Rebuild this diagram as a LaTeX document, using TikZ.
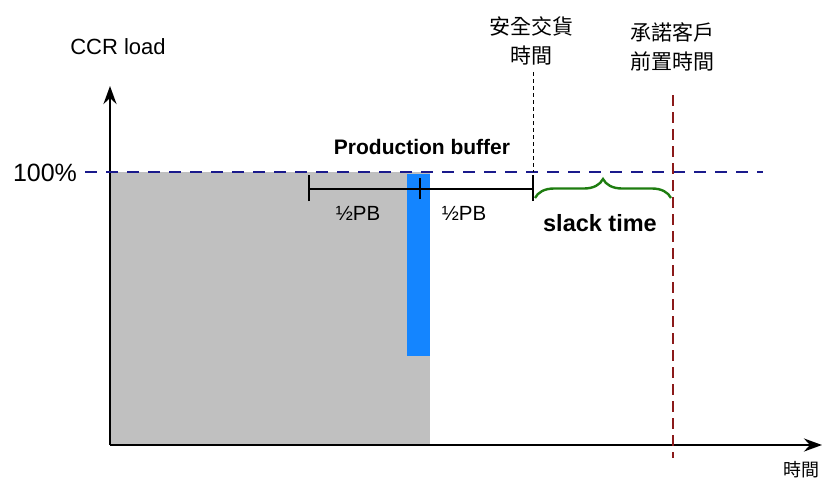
\documentclass[tikz,border=0pt]{standalone}
\usepackage{fontspec}
\setmainfont{Liberation Sans}
\newfontfamily\cjk{Noto Sans CJK TC}
\usepackage{xcolor}
\usetikzlibrary{arrows.meta,decorations.pathreplacing}
\definecolor{loadgray}{HTML}{C0C0C0}
\definecolor{bufblue}{HTML}{1485FF}
\definecolor{capnavy}{HTML}{1A1A8C}
\definecolor{duered}{HTML}{8B1A1A}
\definecolor{slackgreen}{HTML}{1E7D10}
\tikzset{
  axis/.style={line width=2.8pt, -{Stealth[length=18pt,width=13pt,inset=6pt]}},
  capline/.style={draw=capnavy, line width=1.6pt, dash pattern=on 12pt off 9pt},
  dueline/.style={draw=duered, line width=2.2pt, dash pattern=on 11pt off 6pt},
  safeline/.style={draw=black, line width=0.8pt, dash pattern=on 4pt off 3pt},
  span/.style={line width=2pt},
  spantick/.style={line width=2pt},
  slackbrace/.style={draw=slackgreen, line width=2.4pt, decorate, decoration={brace, amplitude=19pt}},
  lbl/.style={inner sep=0pt, align=center}
}
\begin{document}
\begin{tikzpicture}[x=1pt,y=-1pt]
  \useasboundingbox (0,0) rectangle (822,482);

  % load profile and buffer
  \fill[loadgray] (110,172) rectangle (430,445);
  \fill[bufblue] (407,174) rectangle (430,356);

  \coordinate (origin) at (110,445);
  \coordinate (ytip) at (110,86);
  \coordinate (xtip) at (822,445);
  \draw[axis] (origin) -- (ytip);
  \draw[axis] (origin) -- (xtip);

  \coordinate (capL) at (85,172);
  \coordinate (capR) at (763,172);
  \draw[capline] (capL) -- (capR);

  \coordinate (safeTop) at (533,72);
  \coordinate (safeBot) at (533,172);
  \draw[safeline] (safeTop) -- (safeBot);

  \coordinate (dueTop) at (673,95);
  \coordinate (dueBot) at (673,458);
  \draw[dueline] (dueTop) -- (dueBot);

  % buffer span
  \coordinate (pbL) at (309,189);
  \coordinate (pbM) at (420,189);
  \coordinate (pbR) at (533,189);
  \draw[span] (pbL) -- (pbR);
  \draw[spantick] ([yshift=-12pt]pbL) -- ([yshift=14pt]pbL);
  \draw[spantick] ([yshift=-10pt]pbM) -- ([yshift=11pt]pbM);
  \draw[spantick] ([yshift=-12pt]pbR) -- ([yshift=14pt]pbR);

  \coordinate (slackL) at (535,198);
  \coordinate (slackR) at (671,198);
  \draw[slackbrace] (slackL) -- (slackR);

  \node[lbl, font=\fontsize{22}{26}\selectfont] (ccr) at (118,47) {CCR load};
  \node[lbl, font=\fontsize{25}{28}\selectfont] (full) at (45,173) {100\%};
  \node[lbl, font=\fontsize{21}{24}\selectfont\bfseries] (pbuf) at (422,147) {Production buffer};
  \node[lbl, font=\fontsize{20.5}{24}\selectfont] (halfL) at (358,213) {½PB};
  \node[lbl, font=\fontsize{20.5}{24}\selectfont] (halfR) at (464,213) {½PB};
  \node[lbl, font=\fontsize{23.5}{26}\selectfont\bfseries] (slack) at (600,223) {slack time};
  \node[lbl, font=\cjk\fontsize{21}{29}\selectfont] (safe) at (531,41) {安全交貨\\時間};
  \node[lbl, font=\cjk\fontsize{21}{29}\selectfont] (due) at (672,47) {承諾客戶\\前置時間};
  \node[lbl, font=\cjk\fontsize{18}{20}\selectfont] (time) at (801,470) {時間};
\end{tikzpicture}
\end{document}
